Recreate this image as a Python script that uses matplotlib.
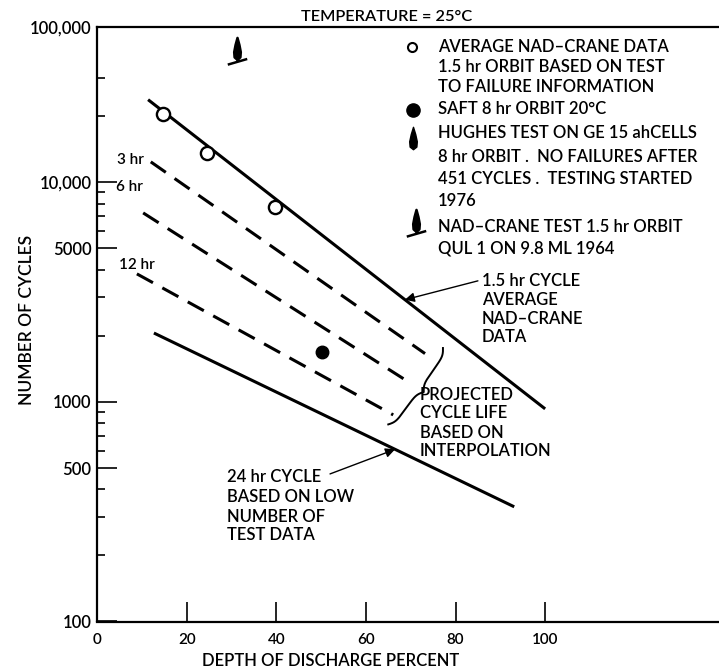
import numpy as np
import matplotlib.pyplot as plt
from matplotlib.path import Path

plt.rcParams['font.family'] = ['Lato', 'DejaVu Sans']
plt.rcParams['font.weight'] = 'semibold'

# values: depth of discharge (%) vs number of cycles
nad_avg_dod = [14.8, 24.5, 39.7]
nad_avg_cycles = [20500, 13600, 7730]
saft_dod = [50.2]
saft_cycles = [1690]
nad_test_dod = [31.3]
nad_test_cycles = [39400]

cycle_15hr_dod = [11.4, 100.0]
cycle_15hr_cycles = [23800, 930]
cycle_24hr_dod = [12.7, 93.1]
cycle_24hr_cycles = [2060, 333]

dashed_labels = ['3 hr', '6 hr', '12 hr']
dashed_dod = [[12.0, 73.2], [10.3, 68.8], [8.9, 66.1]]
dashed_cycles = [[12400, 1660], [7260, 1260], [3830, 873]]

# the top of the axis is printed as 100,000 in the original
y_top = 51000
ytick_values = [100, 500, 1000, 5000, 10000, y_top]
ytick_labels = ['100', '500', '1000', '5000', '10,000', '100,000']
yminor_values = [200, 300, 400, 600, 700, 800, 900,
                 2000, 3000, 4000, 6000, 7000, 8000, 9000, 20000, 30000]
xtick_values = [0, 20, 40, 60, 80, 100]
xtick_labels = ['0', '20', '40', '60', '80', '100']

key_lines = [
    (47, 'AVERAGE NAD–CRANE DATA'),
    (67, '1.5 hr ORBIT BASED ON TEST'),
    (87, 'TO FAILURE INFORMATION'),
    (109, 'SAFT 8 hr ORBIT 20°C'),
    (133, 'HUGHES TEST ON GE 15 ahCELLS'),
    (156, '8 hr ORBIT .  NO FAILURES AFTER'),
    (179, '451 CYCLES .  TESTING STARTED'),
    (200, '1976'),
    (227, 'NAD–CRANE TEST 1.5 hr ORBIT'),
    (248, 'QUL 1 ON 9.8 ML 1964'),
]
callouts = [
    (482, [281, 300, 318, 337], ['1.5 hr CYCLE', 'AVERAGE', 'NAD–CRANE', 'DATA']),
    (420, [395, 413, 432, 450], ['PROJECTED', 'CYCLE LIFE', 'BASED ON', 'INTERPOLATION']),
    (227, [476, 497, 516, 534], ['24 hr CYCLE', 'BASED ON LOW', 'NUMBER OF', 'TEST DATA']),
]

W, H = 719, 669
fig = plt.figure(figsize=(W / 100, H / 100), dpi=100)
ax = fig.add_axes([97 / W, 47.5 / H, 1 - 97 / W, 594.5 / H])


def px(x, y):
    # image pixel position -> figure fraction (for labels only)
    return x / W, 1 - y / H


# custom markers
drop = [(0, 1.0), (0.2, 0.45), (0.34, -0.1), (0.3, -0.5), (0, -0.7),
        (-0.3, -0.5), (-0.34, -0.1), (-0.2, 0.45), (0, 1.0)]
drop_codes = [Path.MOVETO] + [Path.LINETO] * 7 + [Path.CLOSEPOLY]
hughes_marker = Path([(x * 0.85, y) for x, y in drop], drop_codes)
nad_drop = [(x * 0.6, y * 0.8 + 0.1) for x, y in drop]
nad_test_marker = Path(nad_drop + [(-0.6, -0.75), (0.6, -0.4)],
                       drop_codes + [Path.MOVETO, Path.LINETO])

lw = 2.2
ax.plot(cycle_15hr_dod, cycle_15hr_cycles, color='black', lw=lw, solid_capstyle='butt')
ax.plot(cycle_24hr_dod, cycle_24hr_cycles, color='black', lw=lw, solid_capstyle='butt')
label_offsets = [(-7, 2), (0, 26), (18, 9)]
for lab, xs, ys, off in zip(dashed_labels, dashed_dod, dashed_cycles, label_offsets):
    ax.plot(xs, ys, color='black', lw=lw, dashes=(6, 3.5))
    ax.annotate(lab, (xs[0], ys[0]), xytext=off, textcoords='offset pixels',
                ha='right', va='center', fontsize=11)

ax.plot(nad_avg_dod, nad_avg_cycles, 'o', ms=9.5, mfc='white', mec='black', mew=1.7)
ax.plot(saft_dod, saft_cycles, 'o', ms=9, color='black')
ax.plot(nad_test_dod, nad_test_cycles, marker=nad_test_marker, ms=21,
        color='black', mew=1.8, ls='none')

ax.set_yscale('log')
ax.set_xlim(0, 138.8)
ax.set_ylim(100, y_top)
ax.set_yticks(ytick_values)
ax.set_yticklabels(ytick_labels)
ax.set_yticks(yminor_values, minor=True)
ax.set_yticklabels([], minor=True)
ax.set_xticks(xtick_values)
ax.set_xticklabels(xtick_labels)
ax.tick_params(which='major', direction='in', length=14.5, width=1.2, labelsize=12, pad=4)
ax.tick_params(which='minor', direction='in', length=5.5, width=1.2)
ax.tick_params(axis='x', labelsize=11, pad=8)
ax.spines['right'].set_visible(False)
for s in ['left', 'bottom', 'top']:
    ax.spines[s].set_linewidth(1.6)

fig.text(*px(27, 320), 'NUMBER OF CYCLES', rotation=90, ha='center', va='center', fontsize=12.5)
fig.text(*px(331, 661), 'DEPTH OF DISCHARGE PERCENT', ha='center', va='center', fontsize=12)
fig.text(*px(387, 17), 'TEMPERATURE = 25°C', ha='center', va='center', fontsize=11.8)

# key
key_fs = 12
ax.plot(*px(412, 47), 'o', ms=6.5, mfc='white', mec='black', mew=1.5,
        transform=fig.transFigure, clip_on=False)
ax.plot(*px(413, 110), 'o', ms=9.5, color='black', transform=fig.transFigure, clip_on=False)
ax.plot(*px(413, 140), marker=hughes_marker, ms=19, color='black',
        transform=fig.transFigure, clip_on=False)
ax.plot(*px(416, 224), marker=nad_test_marker, ms=21, color='black', mew=1.8,
        transform=fig.transFigure, clip_on=False)
for y, txt in key_lines:
    fig.text(*px(438, y + 5.5), txt, va='baseline', fontsize=key_fs)

# callouts
for x, ys, lines in callouts:
    for y, txt in zip(ys, lines):
        fig.text(*px(x, y + 5.5), txt, va='baseline', fontsize=key_fs)

arrow = dict(arrowstyle='-|>', color='black', lw=1.0, mutation_scale=14, shrinkA=0, shrinkB=0)
ax.annotate('', xy=(68.7, 2920), xytext=(85.0, 3560), arrowprops=arrow)
ax.annotate('', xy=(66.5, 608), xytext=(52.0, 470), arrowprops=arrow)

# curly brace next to the ends of the dashed lines
fig.canvas.draw()
a = ax.transData.transform((77.2, 1760))
b = ax.transData.transform((65.0, 790))
d = b - a
L = np.hypot(*d)
u = d / L
n = np.array([-u[1], u[0]])
if n[0] < 0:
    n = -n
s = np.linspace(0, L / 2, 200)
beta = 0.3
h = 1 / (1 + np.exp(-beta * s)) + 1 / (1 + np.exp(-beta * (s - L / 2))) - 0.5
s_full = np.concatenate([s, L - s[::-1]])
h_full = np.concatenate([h, h[::-1]])
pts = a + np.outer(s_full, u) + np.outer(10 * h_full, n)
brace = ax.transData.inverted().transform(pts)
ax.plot(brace[:, 0], brace[:, 1], color='black', lw=1.4)

fig.savefig('out.png', dpi=100, facecolor='white')
